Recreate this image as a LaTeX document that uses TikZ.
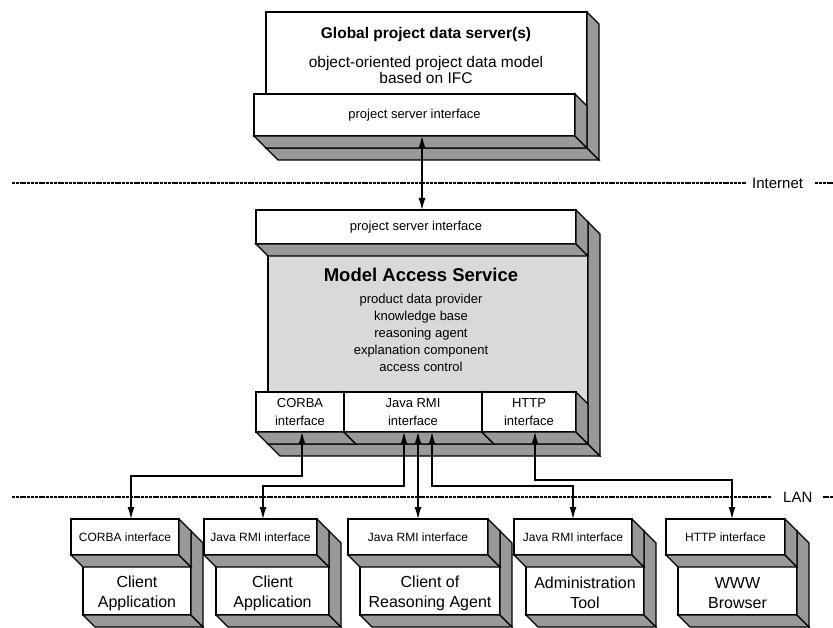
\documentclass[tikz,border=0pt]{standalone}
\usepackage{fontspec}
\setmainfont{Liberation Sans}
\usepackage{tikz}
\usetikzlibrary{arrows.meta, calc, positioning}

% grey side and bottom faces of a box
\newcommand{\extrude}[1]{%
  \filldraw [side] (#1.south west) -- ++(12,12) -- ($(#1.south east)+(12,12)$) -- (#1.south east) -- cycle;
  \filldraw [side] (#1.north east) -- ++(12,12) -- ($(#1.south east)+(12,12)$) -- (#1.south east) -- cycle;}

\begin{document}
\begin{tikzpicture}[x=1pt, y=-1pt]
        \tikzstyle{face} = [rectangle, draw, fill=white, line width=1.2pt, inner sep=0pt, outer sep=0pt, anchor=north west, align=center]
        \tikzstyle{side} = [draw, fill=black!40, line width=1.2pt]
        \tikzstyle{iface} = [face, font=\fontsize{13}{18}\selectfont]
        \tikzstyle{cliface} = [face, minimum height=36, font=\fontsize{12}{14}\selectfont]
        \tikzstyle{clbody} = [face, minimum height=84]
        \tikzstyle{bodytext} = [align=center, font=\fontsize{16}{20}\selectfont]
        \tikzstyle{line} = [draw, {Latex[length=12pt,width=7pt]}-{Latex[length=12pt,width=7pt]}, line width=1.2pt]
        \tikzstyle{net} = [draw, line width=1.5pt, dash pattern=on 3pt off 0.8pt]
        \tikzstyle{netlabel} = [font=\fontsize{15}{18}\selectfont, inner sep=0pt, anchor=west]

        \useasboundingbox (0,0) rectangle (833,628);

        % global server
        \node [face, minimum width=321, minimum height=136] (gps) at (266,12) {};
        \extrude{gps}
        \node [font=\fontsize{15.5}{18}\selectfont\bfseries] (gpstitle) at (426,34) {Global project data server(s)};
        \node [align=center, font=\fontsize{15.5}{16}\selectfont] (gpstext) at (426,70) {object-oriented project data model\\based on IFC};
        \node [iface, minimum width=321, minimum height=42] (gpsif) at (254,94) {project server interface};
        \extrude{gpsif}

        % networks
        \coordinate (inetstart) at (12,183);
        \coordinate (inetend) at (833,183);
        \node [netlabel] (inet) at (752,183) {Internet};
        \draw [net] (inetstart) -- ([xshift=-6]inet.west);
        \draw [net] ([xshift=12]inet.east) -- (inetend);

        \coordinate (lanstart) at (12,497);
        \coordinate (lanend) at (833,497);
        \node [netlabel] (lan) at (783,497) {LAN};
        \draw [net] (lanstart) -- ([xshift=-11]lan.west);
        \draw [net] ([xshift=10]lan.east) -- (lanend);

        % model access service
        \node [face, fill=black!15, minimum width=320, minimum height=222] (mas) at (268,222) {};
        \extrude{mas}
        \node [iface, minimum width=320, minimum height=34] (masif) at (256,210) {project server interface};
        \extrude{masif}
        \node [font=\fontsize{18.5}{22}\selectfont\bfseries] (mastitle) at (421,275) {Model Access Service};
        \node [align=center, font=\fontsize{13}{17}\selectfont] (mastext) at (421,333) {product data provider\\knowledge base\\reasoning agent\\explanation component\\access control};
        \node [iface, minimum width=88, minimum height=40] (mascorba) at (256,392) {CORBA\\interface};
        \extrude{mascorba}
        \node [iface, minimum width=138, minimum height=40] (masrmi) at (344,392) {Java RMI\\interface};
        \extrude{masrmi}
        \node [iface, minimum width=94, minimum height=40] (mashttp) at (482,392) {HTTP\\interface};
        \extrude{mashttp}

        % clients
        \node [clbody, minimum width=108] (cl1) at (83,531) {};
        \extrude{cl1}
        \node [cliface, minimum width=108] (cl1if) at (71,519) {CORBA interface};
        \extrude{cl1if}
        \node [bodytext] (cl1txt) at ($(cl1.center)+(0,20)$) {Client\\Application};

        \node [clbody, minimum width=113] (cl2) at (216,531) {};
        \extrude{cl2}
        \node [cliface, minimum width=113] (cl2if) at (204,519) {Java RMI interface};
        \extrude{cl2if}
        \node [bodytext] (cl2txt) at ($(cl2.center)+(0,20)$) {Client\\Application};

        \node [clbody, minimum width=140] (cl3) at (360,531) {};
        \extrude{cl3}
        \node [cliface, minimum width=140] (cl3if) at (348,519) {Java RMI interface};
        \extrude{cl3if}
        \node [bodytext] (cl3txt) at ($(cl3.center)+(0,20)$) {Client of\\Reasoning Agent};

        \node [clbody, minimum width=118] (cl4) at (526,531) {};
        \extrude{cl4}
        \node [cliface, minimum width=118] (cl4if) at (514,519) {Java RMI interface};
        \extrude{cl4if}
        \node [bodytext] (cl4txt) at ($(cl4.center)+(0,20)$) {Administration\\Tool};

        \node [clbody, minimum width=119] (cl5) at (678,531) {};
        \extrude{cl5}
        \node [cliface, minimum width=119] (cl5if) at (666,519) {HTTP interface};
        \extrude{cl5if}
        \node [bodytext] (cl5txt) at ($(cl5.center)+(0,20)$) {WWW\\Browser};

        % connections
        \path [line] ([xshift=7.5]gpsif.south) -- ([xshift=6]masif.north);
        \path [line] ([xshift=2]mascorba.south) -- ++(0,44) -| ([xshift=6]cl1if.north);
        \path [line] ([xshift=-9]masrmi.south) -- ++(0,54) -| ([xshift=2.5]cl2if.north);
        \path [line] ([xshift=5]masrmi.south) -- (cl3if.north);
        \path [line] ([xshift=19]masrmi.south) -- ++(0,54) -| (cl4if.north);
        \path [line] ([xshift=6]mashttp.south) -- ++(0,48) -| ([xshift=6.5]cl5if.north);
    \end{tikzpicture}
\end{document}
